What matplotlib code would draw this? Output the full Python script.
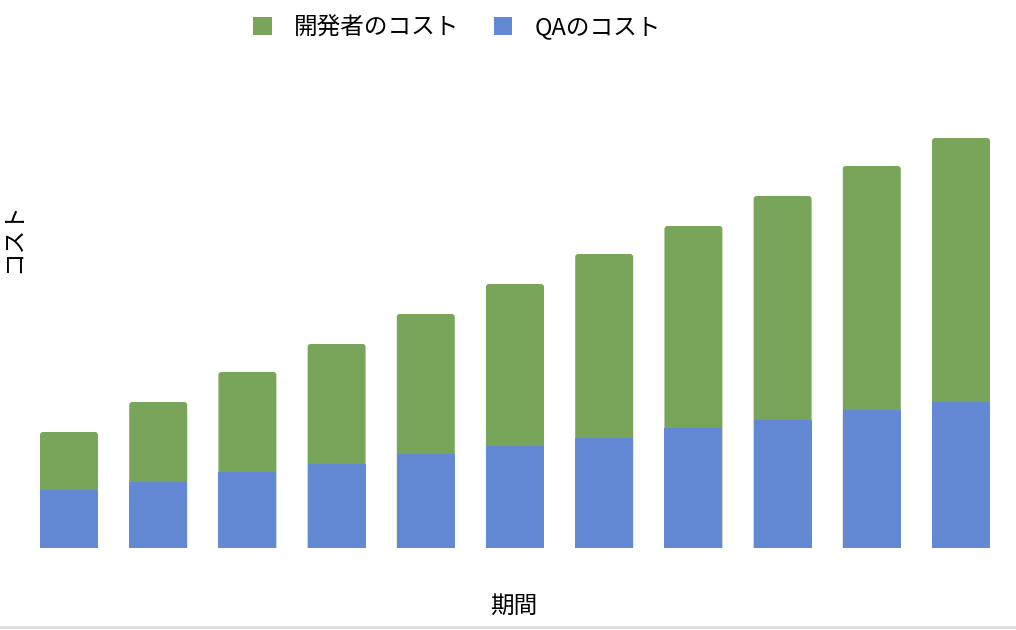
import matplotlib
matplotlib.use("Agg")
import matplotlib.pyplot as plt
from matplotlib.patches import FancyBboxPatch
from matplotlib.lines import Line2D

plt.rcParams['font.family'] = ['Noto Sans CJK JP', 'DejaVu Sans']

periods = [1, 2, 3, 4, 5, 6, 7, 8, 9, 10, 11]
qa_cost = [58, 66, 76, 84, 94, 102, 110, 120, 128, 138, 146]
dev_cost = [58, 80, 100, 120, 140, 162, 184, 202, 224, 244, 264]
series_names = ['開発者のコスト', 'QAのコスト']
x_label = '期間'
y_label = 'コスト'

green = '#79a55a'
blue = '#6389d4'

W, H = 1016, 630
fig = plt.figure(figsize=(W / 100, H / 100), dpi=100)

# axes placement in pixels
x_left, x_right = 24.4, 1005.6
y_base, y_top = 548, 100
ax = fig.add_axes([x_left / W, (H - y_base) / H, (x_right - x_left) / W, (y_base - y_top) / H])

pos = list(range(len(periods)))
totals = [q + d for q, d in zip(qa_cost, dev_cost)]
width = 0.65

# green (developer) bar drawn full height with rounded top, behind blue
green_bars = ax.bar(pos, totals, width=width, color=green, zorder=1)
ax.set_xlim(-0.5, len(periods) - 0.5)
ax.set_ylim(0, y_base - y_top)

px_per_x = (x_right - x_left) / len(periods)
px_per_y = 1.0
r_px = 3.0
for rect in green_bars:
    rect.set_visible(False)
    bx, by = rect.get_x(), rect.get_y()
    bw, bh = rect.get_width(), rect.get_height()
    r = r_px / px_per_x
    p = FancyBboxPatch((bx + r, by), bw - 2 * r, bh - r * px_per_x,
                       boxstyle=f"round,pad={r},rounding_size={r}",
                       mutation_aspect=px_per_x / px_per_y,
                       facecolor=green, edgecolor='none', zorder=1)
    ax.add_patch(p)

ax.bar(pos, qa_cost, width=width, color=blue, zorder=2)

for s in ax.spines.values():
    s.set_visible(False)
ax.set_xticks([])
ax.set_yticks([])

fig.text(514 / W, 1 - 606 / H, x_label, ha='center', va='center', fontsize=17)
fig.text(13 / W, 1 - 238 / H, y_label, ha='center', va='center', fontsize=17, rotation=90)

handles = [plt.Rectangle((0, 0), 1, 1, facecolor=green, edgecolor='none'),
           plt.Rectangle((0, 0), 1, 1, facecolor=blue, edgecolor='none')]
fig.legend(handles, series_names, loc='center', bbox_to_anchor=(457 / W, 1 - 28 / H),
           ncol=2, frameon=False, fontsize=17, handlelength=0.78, handleheight=0.78,
           handletextpad=0.93, columnspacing=1.48)

fig.add_artist(Line2D([0, 1], [1 - 626.5 / H] * 2, color='#e0e0e0', linewidth=2,
                      transform=fig.transFigure))

fig.savefig('out.png', dpi=100)
